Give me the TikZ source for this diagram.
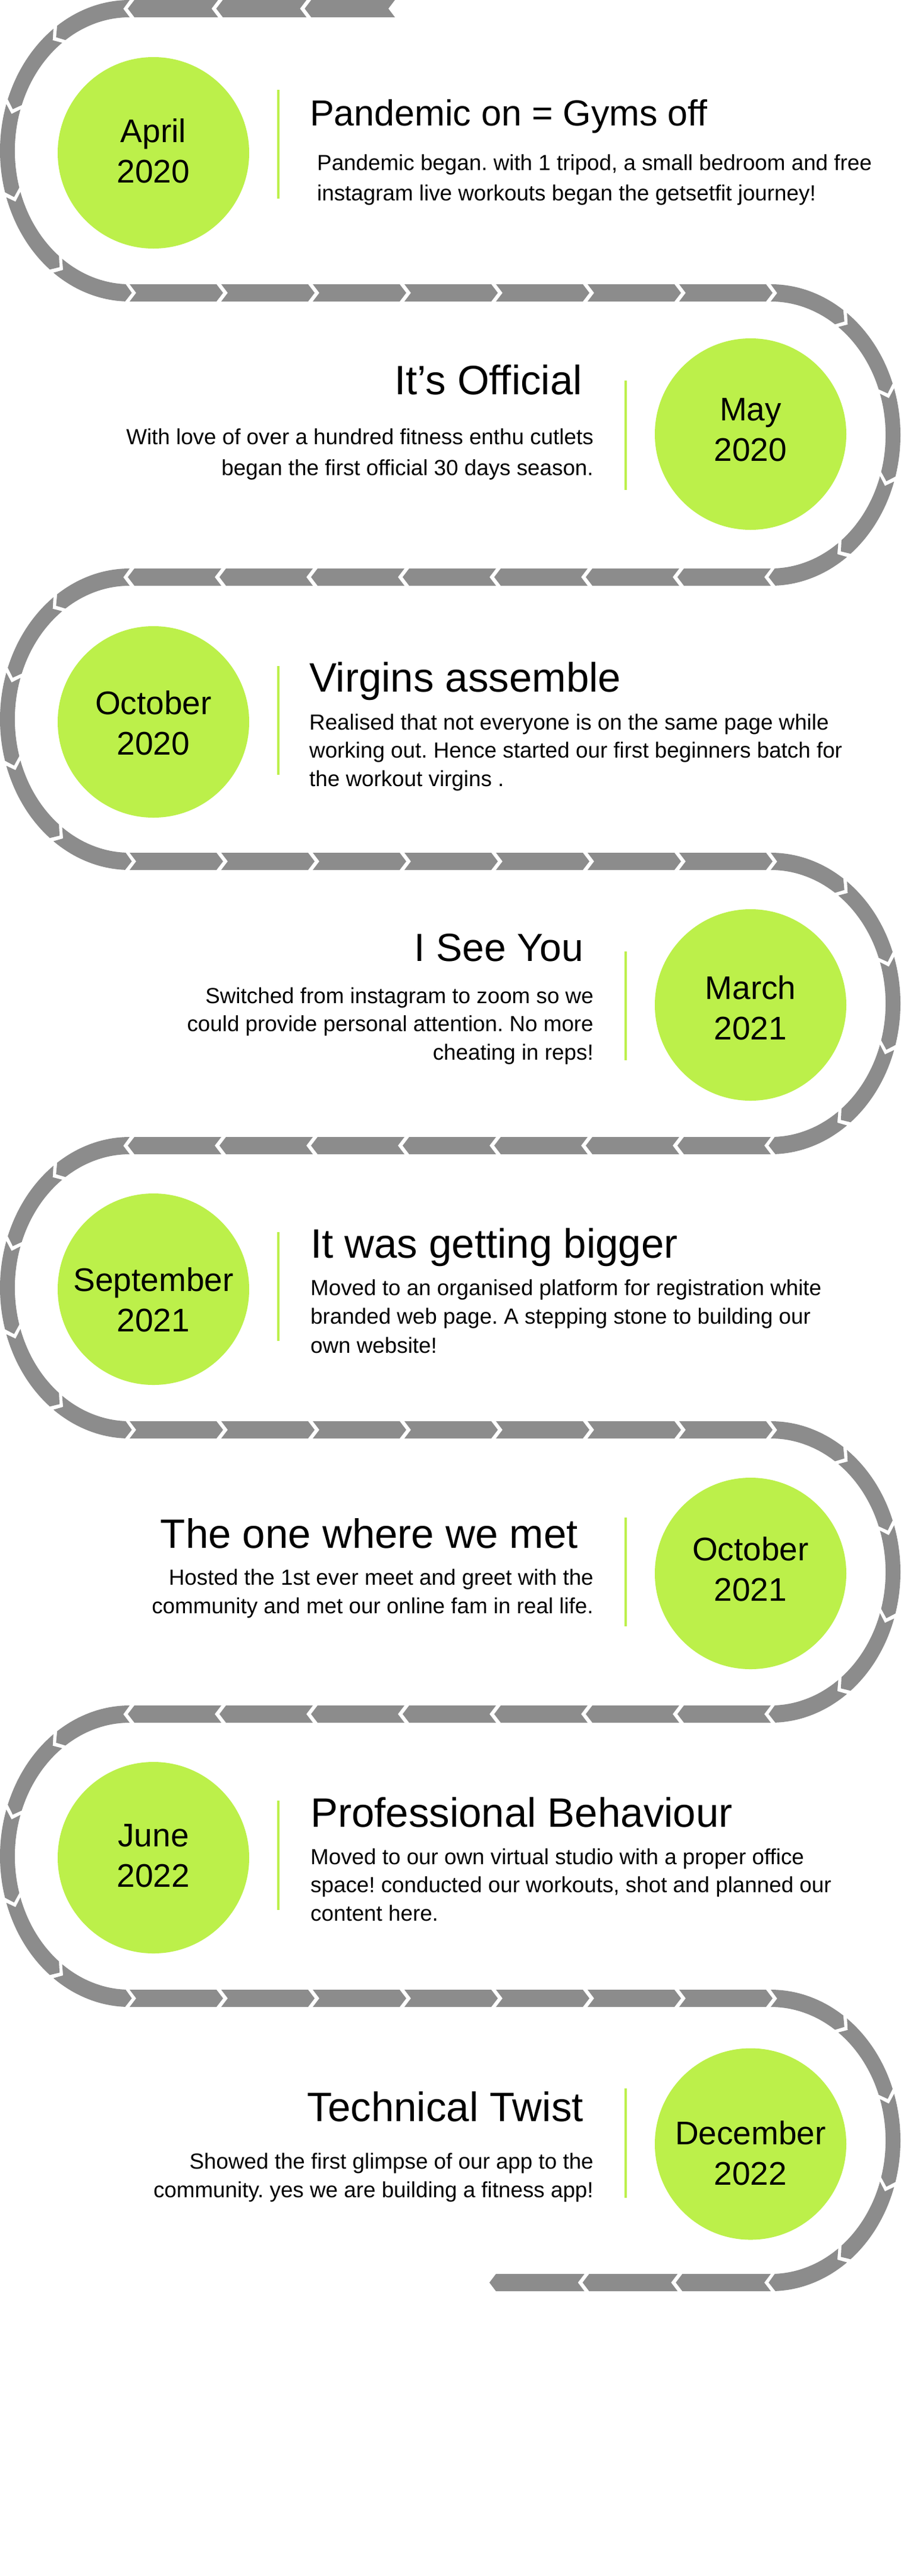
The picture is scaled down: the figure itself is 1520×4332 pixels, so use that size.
\documentclass[tikz,border=0pt]{standalone}
\usepackage{fontspec}
\setmainfont{Liberation Sans}
\usepackage{tikz}
\usepackage{xcolor}
\frenchspacing

\definecolor{limegreen}{RGB}{188,240,74}
\definecolor{trackgray}{RGB}{140,140,140}

\def\chevgap{8}
\def\chevtip{11}
\def\arcgap{2}
\def\arctip{3}

% straight run of chevrons: start x, direction, pitch, count, centre y
\newcommand{\chevrow}[5]{%
  \foreach \ii in {1,...,#4}{
    \pgfmathsetmacro{\xa}{#1+#2*(\ii-1)*#3}
    \pgfmathsetmacro{\xb}{\xa+#2*(#3-\chevgap)}
    \pgfmathsetmacro{\xc}{\xb+#2*\chevtip}
    \pgfmathsetmacro{\xd}{\xa+#2*\chevtip}
    \fill[track] (\xa,#5+14.5) -- (\xb,#5+14.5) -- (\xc,#5) -- (\xb,#5-14.5)
      -- (\xa,#5-14.5) -- (\xd,#5) -- cycle;
  }}

% half turn of five bent chevrons: centre x, centre y, direction (1 ccw, -1 cw)
\newcommand{\chevturn}[3]{%
  \begin{scope}[shift={(#1,#2)},xscale=0.86]
    \foreach \ii in {0,...,4}{
      \pgfmathsetmacro{\anga}{90+#3*36*\ii}
      \pgfmathsetmacro{\angb}{\anga+#3*(36-\arcgap)}
      \pgfmathsetmacro{\angc}{\angb+#3*\arctip}
      \pgfmathsetmacro{\angd}{\anga+#3*\arctip}
      \fill[track] (\anga:253.5) arc[start angle=\anga, end angle=\angb, radius=253.5]
        -- (\angc:239) -- (\angb:224.5) arc[start angle=\angb, end angle=\anga, radius=224.5]
        -- (\angd:239) -- cycle;
    }
  \end{scope}}

\begin{document}
\begin{tikzpicture}[x=1pt,y=1pt,
    track/.style={fill=trackgray},
    datecircle/.style={circle, fill=limegreen, minimum size=322pt, inner sep=0pt},
    datelabel/.style={align=center, inner sep=0pt, font=\fontsize{55}{68}\selectfont},
    marker/.style={draw=limegreen, line width=4.5pt},
    headline/.style={inner sep=0pt, font=\fontsize{#1}{#1}\selectfont},
    headline/.default=69,
    bodytext/.style={inner sep=0pt, font=\fontsize{36.8}{#1}\selectfont},
    bodytext/.default=48]
    \fill[white] (0,0) rectangle (1520,-4332);
    \useasboundingbox (0,0) rectangle (1520,-4332);

    % the track
    \chevrow{664}{-1}{148.67}{3}{-14.5}
    \foreach \r in {1,3,5,7}{
      \pgfmathsetmacro{\yr}{-14.5-478*\r}
      \chevrow{218}{1}{154}{7}{\yr}
    }
    \foreach \r in {2,4,6}{
      \pgfmathsetmacro{\yr}{-14.5-478*\r}
      \chevrow{1296}{-1}{154}{7}{\yr}
    }
    \chevrow{1296}{-1}{156.7}{3}{-3838.5}
    \foreach \r in {0,2,4,6}{
      \pgfmathsetmacro{\yc}{-253.5-478*\r}
      \chevturn{218}{\yc}{1}
    }
    \foreach \r in {1,3,5,7}{
      \pgfmathsetmacro{\yc}{-253.5-478*\r}
      \chevturn{1296}{\yc}{-1}
    }

    % April 2020 (body nodes sit on their last baseline)
    \node[datecircle] (c1) at (258,-257) {};
    \node[datelabel] (d1) at ([yshift=3]c1.center) {April\\2020};
    \draw[marker] (468,-151) -- (468,-334);
    \node[headline=61, anchor=base west] (t1) at (521,-211) {Pandemic on = Gyms off};
    \node[bodytext=51, anchor=base west, align=left] (b1) at (533,-337)
      {Pandemic began. with 1 tripod, a small bedroom and free\\instagram live workouts began the getsetfit journey!};

    % May 2020
    \node[datecircle] (c2) at (1262,-730) {};
    \node[datelabel] (d2) at ([yshift=7.5]c2.center) {May\\2020};
    \draw[marker] (1052,-640) -- (1052,-824);
    \node[headline, anchor=base east] (t2) at (979,-663) {It’s Official};
    \node[bodytext=52, anchor=base east, align=right] (b2) at (998,-799)
      {With love of over a hundred fitness enthu cutlets\\began the first official 30 days season.};

    % October 2020
    \node[datecircle] (c3) at (258,-1214) {};
    \node[datelabel] (d3) at ([yshift=-1.5]c3.center) {October\\2020};
    \draw[marker] (468,-1120) -- (468,-1303);
    \node[headline, anchor=base west] (t3) at (520,-1163) {Virgins assemble};
    \node[bodytext=47.5, anchor=base west, align=left] (b3) at (520,-1322)
      {Realised that not everyone is on the same page while\\working out. Hence started our first beginners batch for\\the workout virgins .};

    % March 2021
    \node[datecircle] (c4) at (1262,-1690) {};
    \node[datelabel] (d4) at ([yshift=-4.5]c4.center) {March\\2021};
    \draw[marker] (1052,-1600) -- (1052,-1783);
    \node[headline=66, anchor=base east] (t4) at (981,-1616) {I See You};
    \node[bodytext=47.5, anchor=base east, align=right] (b4) at (998,-1782)
      {Switched from instagram to zoom so we\\could provide personal attention. No more\\cheating in reps!};

    % September 2021
    \node[datecircle] (c5) at (258,-2168) {};
    \node[datelabel] (d5) at ([yshift=-18]c5.center) {September\\2021};
    \draw[marker] (468,-2072) -- (468,-2255);
    \node[headline, anchor=base west] (t5) at (522,-2115) {It was getting bigger};
    \node[bodytext=48.5, anchor=base west, align=left] (b5) at (522,-2275)
      {Moved to an organised platform for registration white\\branded web page. A stepping stone to building our\\own website!};

    % October 2021
    \node[datecircle] (c6) at (1262,-2646) {};
    \node[datelabel] (d6) at ([yshift=7]c6.center) {October\\2021};
    \draw[marker] (1052,-2552) -- (1052,-2735);
    \node[headline, anchor=base east] (t6) at (972,-2603) {The one where we met};
    \node[bodytext, anchor=base east, align=right] (b6) at (998,-2713)
      {Hosted the 1st ever meet and greet with the\\community and met our online fam in real life.};

    % June 2022
    \node[datecircle] (c7) at (258,-3124) {};
    \node[datelabel] (d7) at ([yshift=3.5]c7.center) {June\\2022};
    \draw[marker] (468,-3028) -- (468,-3212);
    \node[headline, anchor=base west] (t7) at (522,-3072) {Professional Behaviour};
    \node[bodytext=47.5, anchor=base west, align=left] (b7) at (522,-3230)
      {Moved to our own virtual studio with a proper office\\space! conducted our workouts, shot and planned our\\content here.};

    % December 2022
    \node[datecircle] (c8) at (1262,-3605.5) {};
    \node[datelabel] (d8) at ([yshift=-15.5]c8.center) {December\\2022};
    \draw[marker] (1052,-3512) -- (1052,-3696);
    \node[headline, anchor=base east] (t8) at (981,-3567) {Technical Twist};
    \node[bodytext, anchor=base east, align=right] (b8) at (998,-3695)
      {Showed the first glimpse of our app to the\\community. yes we are building a fitness app!};
\end{tikzpicture}
\end{document}
